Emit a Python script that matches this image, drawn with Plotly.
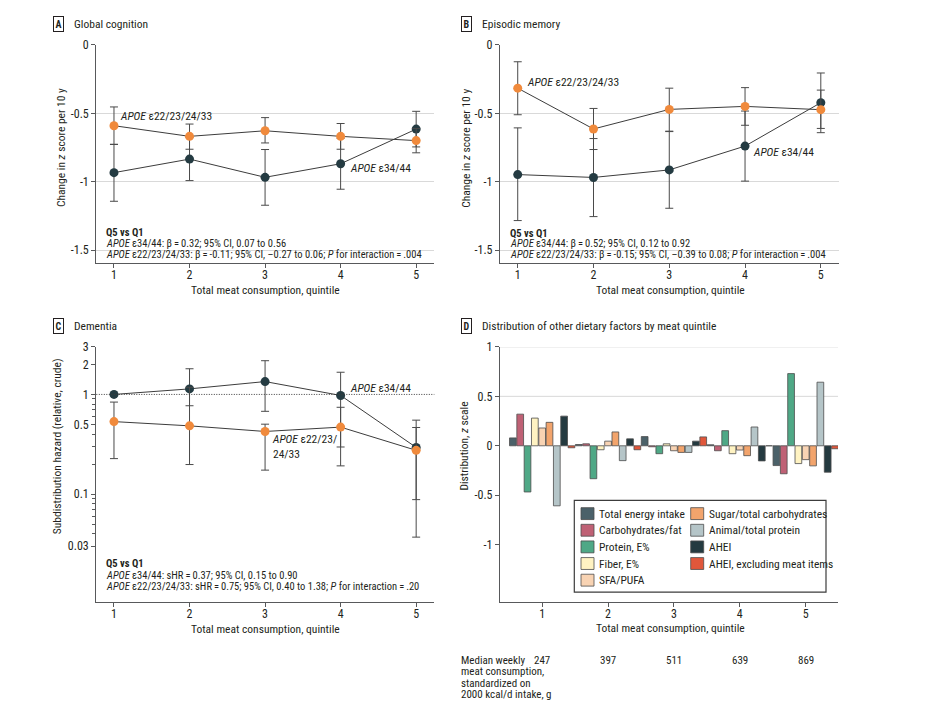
import math

import plotly.graph_objects as go

W, H = 942, 706
FONT = "Liberation Sans Narrow, Arial Narrow, Roboto Condensed, sans-serif"
TXT = "#231f20"
AXC = "#58595b"
ORANGE = "#f08a3c"
DARK = "#243b42"

quintiles = [1, 2, 3, 4, 5]

# A - global cognition (change in z score per 10 y)
gc_e4 = [-0.933, -0.834, -0.967, -0.868, -0.615]
gc_e4_lo = [-1.142, -0.991, -1.171, -1.054, -0.745]
gc_e4_hi = [-0.726, -0.677, -0.764, -0.682, -0.485]
gc_e3 = [-0.590, -0.668, -0.627, -0.668, -0.699]
gc_e3_lo = [-0.727, -0.762, -0.716, -0.762, -0.788]
gc_e3_hi = [-0.453, -0.578, -0.531, -0.574, -0.610]

# B - episodic memory
em_e4 = [-0.947, -0.968, -0.913, -0.739, -0.422]
em_e4_lo = [-1.283, -1.254, -1.193, -0.995, -0.641]
em_e4_hi = [-0.606, -0.684, -0.633, -0.483, -0.205]
em_e3 = [-0.316, -0.614, -0.471, -0.449, -0.473]
em_e3_lo = [-0.510, -0.764, -0.630, -0.587, -0.610]
em_e3_hi = [-0.123, -0.464, -0.316, -0.312, -0.330]

# C - dementia, subdistribution hazard
dem_e4 = [1.0, 1.137, 1.346, 0.977, 0.294]
dem_e4_lo = [1.0, 0.770, 0.677, 0.297, 0.088]
dem_e4_hi = [1.0, 1.810, 2.180, 1.670, 0.552]
dem_e3 = [0.534, 0.484, 0.425, 0.470, 0.275]
dem_e3_lo = [0.227, 0.198, 0.174, 0.192, 0.037]
dem_e3_hi = [0.838, 1.180, 0.503, 0.743, 0.466]

# D - other dietary factors by meat quintile (z scale)
factor_names = [
    "Total energy intake",
    "Carbohydrates/fat",
    "Protein, E%",
    "Fiber, E%",
    "SFA/PUFA",
    "Sugar/total carbohydrates",
    "Animal/total protein",
    "AHEI",
    "AHEI, excluding meat items",
]
factor_colors = [
    "#4b6169", "#bf6175", "#4fa886", "#fff3c2", "#f8d3b3",
    "#f2a46c", "#b5c5c8", "#243a40", "#e0573b",
]
total_energy = [0.080, 0.013, 0.093, 0.010, -0.200]
carb_fat = [0.320, 0.020, -0.010, -0.050, -0.283]
protein = [-0.467, -0.333, -0.080, 0.153, 0.730]
fiber = [0.280, -0.040, 0.020, -0.080, -0.180]
sfa_pufa = [0.180, 0.047, -0.050, -0.043, -0.140]
sugar = [0.237, 0.140, -0.067, -0.100, -0.203]
animal = [-0.607, -0.150, -0.067, 0.190, 0.643]
ahei = [0.300, 0.070, 0.047, -0.153, -0.267]
ahei_excl = [-0.020, -0.040, 0.090, 0.000, -0.030]
factor_values = [total_energy, carb_fat, protein, fiber, sfa_pufa,
                 sugar, animal, ahei, ahei_excl]

median_weekly = [247, 397, 511, 639, 869]


def px(x):
    return x / W


def py(y):
    return 1 - y / H


fig = go.Figure()


def add_series(xa, ya, y, lo, hi, color):
    fig.add_trace(go.Scatter(
        x=quintiles, y=y, xaxis=xa, yaxis=ya,
        mode="lines+markers",
        line=dict(color="#3c3c3c", width=1),
        marker=dict(color=color, size=9),
        error_y=dict(
            type="data", symmetric=False,
            array=[h - v for h, v in zip(hi, y)],
            arrayminus=[v - l for v, l in zip(y, lo)],
            color="#4a4a4a", thickness=1, width=4,
        ),
        showlegend=False, hoverinfo="x+y",
    ))


add_series("x", "y", gc_e4, gc_e4_lo, gc_e4_hi, DARK)
add_series("x", "y", gc_e3, gc_e3_lo, gc_e3_hi, ORANGE)
add_series("x2", "y2", em_e4, em_e4_lo, em_e4_hi, DARK)
add_series("x2", "y2", em_e3, em_e3_lo, em_e3_hi, ORANGE)
add_series("x3", "y3", dem_e4, dem_e4_lo, dem_e4_hi, DARK)
add_series("x3", "y3", dem_e3, dem_e3_lo, dem_e3_hi, ORANGE)

for name, vals, col in zip(factor_names, factor_values, factor_colors):
    fig.add_trace(go.Bar(
        x=quintiles, y=vals, name=name, xaxis="x4", yaxis="y4",
        marker=dict(color=col, line=dict(color="#4d4d4d", width=0.8)),
        showlegend=False,
    ))

ax_common = dict(
    showline=True, linecolor=AXC, linewidth=1.2, ticks="outside",
    ticklen=4, tickcolor=AXC, zeroline=False,
    tickfont=dict(family=FONT, size=12, color=TXT),
)
x_common = dict(ax_common, tickvals=quintiles, showgrid=False, ticklabelstandoff=-3)

lin_ticks = [0, -0.5, -1, -1.5]
lin_text = ["0", "-0.5", "-1", "-1.5"]
log_ticks = [3, 2, 1, 0.5, 0.1, 0.03]
log_text = ["3", "2", "1", "0.5", "0.1", "0.03"]
log_minor = [0.04, 0.05, 0.06, 0.07, 0.08, 0.09, 0.2, 0.3, 0.4, 0.6, 0.7, 0.8, 0.9]
d_ticks = [1, 0.5, 0, -0.5, -1]
d_text = ["1", "0.5", "0", "-0.5", "-1"]

fig.update_layout(
    width=W, height=H,
    margin=dict(l=0, r=0, t=0, b=0),
    paper_bgcolor="white", plot_bgcolor="white",
    font=dict(family=FONT, size=12, color=TXT),
    showlegend=False,
    barmode="group", bargap=0, bargroupgap=0.08,
    xaxis=dict(x_common, domain=[px(96.3), px(434.3)], range=[0.766, 5.24], anchor="y"),
    yaxis=dict(ax_common, domain=[py(258.3), py(38.3)], range=[-1.591, 0], anchor="x",
               tickvals=lin_ticks, ticktext=lin_text, showgrid=True, gridcolor="#d9d9d9"),
    xaxis2=dict(x_common, domain=[px(500), px(839)], range=[0.766, 5.24], anchor="y2"),
    yaxis2=dict(ax_common, domain=[py(258.3), py(38.3)], range=[-1.591, 0], anchor="x2",
                tickvals=lin_ticks, ticktext=lin_text, showgrid=True, gridcolor="#d9d9d9"),
    xaxis3=dict(x_common, domain=[px(96.3), px(434.3)], range=[0.766, 5.24], anchor="y3"),
    yaxis3=dict(ax_common, domain=[py(600.7), py(343.3)], type="log", range=[-2.08, 0.477],
                anchor="x3", tickvals=log_ticks, ticktext=log_text, showgrid=False,
                minor=dict(tickvals=log_minor, ticks="outside", ticklen=3, tickcolor=AXC)),
    xaxis4=dict(x_common, domain=[px(500), px(838)], range=[0.36, 5.49], anchor="y4"),
    yaxis4=dict(ax_common, domain=[py(600.7), py(343.3)], range=[-1.577, 1.0], anchor="x4",
                tickvals=d_ticks, ticktext=d_text, showgrid=False),
)

shapes = [
    # legend frame for panel D
    dict(type="rect", xref="paper", yref="paper", x0=px(574.3), x1=px(826),
         y0=py(591), y1=py(498.3), line=dict(color="#3c3c3c", width=1.2),
         fillcolor="white", layer="below"),
    # reference HR = 1 in panel C
    dict(type="line", xref="x3 domain", yref="y3", x0=0, x1=1, y0=1, y1=1,
         line=dict(color="#3c3c3c", width=1, dash="1px,1.5px")),
]
# light grid in panel D only at the positive ticks
for g in [1, 0.5]:
    shapes.append(dict(type="line", xref="x4 domain", yref="y4", x0=0, x1=1, y0=g, y1=g,
                       line=dict(color="#d9d9d9", width=1), layer="below"))

ann = []


def text(x, y, s, size=12, xanchor="left", **kw):
    ann.append(dict(x=px(x), y=py(y), xref="paper", yref="paper", text=s, showarrow=False,
                    xanchor=xanchor, yanchor="middle",
                    font=dict(family=FONT, size=size, color=TXT), **kw))


# legend of panel D, two columns (5 + 4 entries)
for i, (name, col) in enumerate(zip(factor_names, factor_colors)):
    c, r = divmod(i, 5)
    sx = 581 if c == 0 else 690.7
    sy = 511.7 + r * 16.8
    shapes.append(dict(type="rect", xref="paper", yref="paper",
                       x0=px(sx), x1=px(sx + 13), y0=py(sy + 6), y1=py(sy - 6),
                       fillcolor=col, line=dict(color="#4d4d4d", width=0.8)))
    text(sx + 16, sy, name, size=11.5)

fig.update_layout(shapes=shapes)

# panel headings
for letter, bx, tx, ty, title in [
    ("A", 58.5, 72, 17.5, "Global cognition"),
    ("B", 466.2, 480, 17.5, "Episodic memory"),
    ("C", 58.5, 72, 322.3, "Dementia"),
    ("D", 466.2, 480, 322.3, "Distribution of other dietary factors by meat quintile"),
]:
    text(bx, ty, "<b>%s</b>" % letter, size=10, xanchor="center",
         bordercolor="#231f20", borderwidth=1, borderpad=1.5)
    text(tx, ty, title, size=11.5)

# axis titles
for x, y in [(265.3, 286), (670, 286), (265.3, 628.3), (670, 627.7)]:
    text(x, y, "Total meat consumption, quintile", size=11.5, xanchor="center")
for x, y, s in [
    (61, 142.5, "Change in <i>z</i> score per 10 y"),
    (465.7, 142.5, "Change in <i>z</i> score per 10 y"),
    (57.3, 443.3, "Subdistribution hazard (relative, crude)"),
    (464, 444, "Distribution, <i>z</i> scale"),
]:
    text(x, y, s, size=11.5, xanchor="center", textangle=-90)

# Q5 vs Q1 summaries
sp = "\u2009=\u2009"
stats = [
    (103.7, [227.7, 239.3, 250.3],
     ["<b>Q5 vs Q1</b>",
      "<i>APOE</i> ε34/44: β" + sp + "0.32; 95% CI, 0.07 to 0.56",
      "<i>APOE</i> ε22/23/24/33: β" + sp + "-0.11; 95% CI, –0.27 to 0.06; <i>P</i> for interaction" + sp + ".004"]),
    (508.3, [228.3, 239.3, 250.3],
     ["<b>Q5 vs Q1</b>",
      "<i>APOE</i> ε34/44: β" + sp + "0.52; 95% CI, 0.12 to 0.92",
      "<i>APOE</i> ε22/23/24/33: β" + sp + "-0.15; 95% CI, –0.39 to 0.08; <i>P</i> for interaction" + sp + ".004"]),
    (103.7, [562.3, 573.7, 585],
     ["<b>Q5 vs Q1</b>",
      "<i>APOE</i> ε34/44: sHR" + sp + "0.37; 95% CI, 0.15 to 0.90",
      "<i>APOE</i> ε22/23/24/33: sHR" + sp + "0.75; 95% CI, 0.40 to 1.38; <i>P</i> for interaction" + sp + ".20"]),
]
for x, ys, lines in stats:
    for y, s in zip(ys, lines):
        text(x, y, s, size=10.5)

# series labels inside panels
e3_label = "<i>APOE</i> ε22/23/24/33"
e4_label = "<i>APOE</i> ε34/44"
for xr, yr, x, y, s in [
    ("x", "y", 1.053, -0.518, e3_label),
    ("x", "y", 4.095, -0.897, e4_label),
    ("x2", "y2", 1.098, -0.273, e3_label),
    ("x2", "y2", 4.08, -0.784, e4_label),
    ("x3", "y3", 4.095, math.log10(1.17), e4_label),
    ("x3", "y3", 3.07, math.log10(0.30), "<i>APOE</i> ε22/23/<br>24/33"),
]:
    ann.append(dict(x=x, y=y, xref=xr, yref=yr, text=s, showarrow=False,
                    xanchor="left", yanchor="middle", align="left",
                    font=dict(family=FONT, size=11.5, color=TXT)))

# median weekly meat consumption row under panel D
for i, line in enumerate(["Median weekly", "meat consumption,", "standardized on",
                          "2000 kcal/d intake, g"]):
    text(459.3, 660 + i * 11.6, line, size=11)
for q, v in zip(quintiles, median_weekly):
    ann.append(dict(x=q, y=py(660), xref="x4", yref="paper", text=str(v), showarrow=False,
                    xanchor="center", yanchor="middle",
                    font=dict(family=FONT, size=11, color=TXT)))

fig.update_layout(annotations=ann)

fig.write_html("out.html", config={"displayModeBar": False},
               post_script="document.body.style.margin='0px';")
